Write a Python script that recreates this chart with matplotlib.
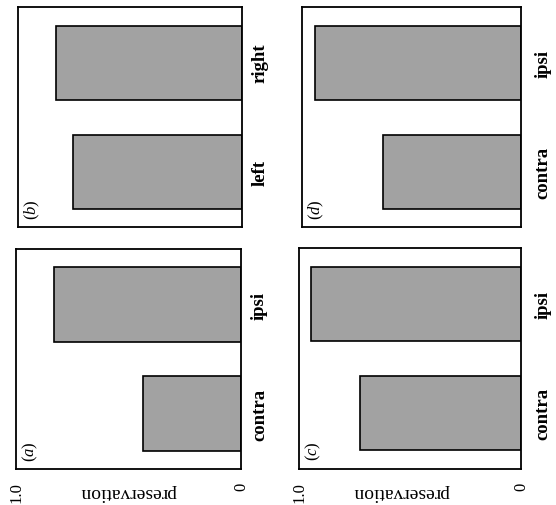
import matplotlib
matplotlib.use('Agg')
import matplotlib.pyplot as plt

plt.rcParams['font.family'] = ['Liberation Serif', 'DejaVu Serif']
plt.rcParams['mathtext.fontset'] = 'custom'
plt.rcParams['mathtext.rm'] = 'Liberation Serif'
plt.rcParams['mathtext.it'] = 'Liberation Serif:italic'

# ---- data (figure is shown rotated 90 degrees) ----
cats_a = ['contra', 'ipsi']
vals_a = [0.435, 0.83]
cats_b = ['left', 'right']
vals_b = [0.755, 0.83]
cats_c = ['contra', 'ipsi']
vals_c = [0.725, 0.946]
cats_d = ['contra', 'ipsi']
vals_d = [0.63, 0.94]
value_ticks = [0, 1.0]
value_tick_labels = ['0', '1.0']
panel_letters = ['a', 'b', 'c', 'd']
axis_label = 'preservation'

fig = plt.figure(figsize=(5.56, 5.06), dpi=100)

# axes rectangles [left, bottom, width, height] in figure fraction
rects = {
    'a': [0.029, 0.071, 0.405, 0.435],
    'b': [0.032, 0.549, 0.403, 0.435],
    'c': [0.538, 0.071, 0.399, 0.437],
    'd': [0.543, 0.549, 0.394, 0.435],
}
data = {'a': (cats_a, vals_a), 'b': (cats_b, vals_b),
        'c': (cats_c, vals_c), 'd': (cats_d, vals_d)}

for letter in panel_letters:
    cats, vals = data[letter]
    ax = fig.add_axes(rects[letter])
    ypos = list(range(len(cats)))
    ax.barh(ypos, vals, height=0.68, color='#a2a2a2', edgecolor='black',
            linewidth=1.2, zorder=2)
    ax.set_xlim(1.0, 0)
    ax.set_ylim(-0.51, 1.51)
    for sp in ax.spines.values():
        sp.set_linewidth(1.3)
        sp.set_color('black')
    ax.yaxis.tick_right()
    ax.set_yticks(ypos)
    ax.set_yticklabels(cats, rotation=90, va='center', fontsize=13.5,
                       fontweight='bold')
    pad = 7 if letter in ('a', 'b') else 10
    ax.tick_params(axis='y', length=0, pad=pad)
    ax.set_xticks(value_ticks)
    if letter in ('a', 'c'):
        ax.set_xticklabels(value_tick_labels, rotation=90, fontsize=12)
        ax.tick_params(axis='x', length=0, pad=9)
        xl = 0.5 if letter == 'a' else 0.46
        ax.text(xl, -0.10, axis_label, transform=ax.transAxes, rotation=180,
                ha='center', va='center', fontsize=14)
    else:
        ax.set_xticklabels([])
        ax.tick_params(axis='x', length=0)
    ax.text(0.065, 0.085, r'($\mathit{%s}$)' % letter, transform=ax.transAxes,
            rotation=90, ha='center', va='center', fontsize=12)

fig.savefig('out.png', dpi=100)
